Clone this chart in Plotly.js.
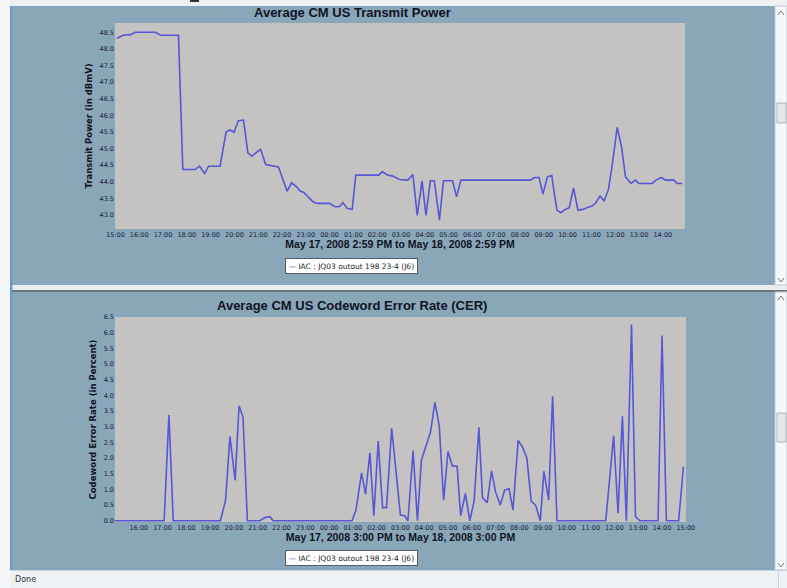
<!DOCTYPE html>
<html>
<head>
<meta charset="utf-8">
<script src="https://cdn.plot.ly/plotly-3.0.1.min.js"></script>
<style>
  html, body { margin: 0; padding: 0; background: #ffffff; }
  #chart { width: 787px; height: 588px; }
</style>
</head>
<body>
<div id="chart"></div>
<script>
// Average CM US transmit power (dBmV), May 17 15:00 -> May 18 15:00
const powerTimes = [
  '2008-05-17 15:04', '2008-05-17 15:21', '2008-05-17 15:39', '2008-05-17 15:50',
  '2008-05-17 16:40', '2008-05-17 16:55', '2008-05-17 17:39', '2008-05-17 17:50',
  '2008-05-17 18:21', '2008-05-17 18:32', '2008-05-17 18:45', '2008-05-17 18:55',
  '2008-05-17 19:24', '2008-05-17 19:39', '2008-05-17 19:49', '2008-05-17 19:59',
  '2008-05-17 20:10', '2008-05-17 20:23', '2008-05-17 20:34', '2008-05-17 20:44',
  '2008-05-17 20:54', '2008-05-17 21:06', '2008-05-17 21:19', '2008-05-17 21:30',
  '2008-05-17 21:38', '2008-05-17 21:51', '2008-05-17 22:13', '2008-05-17 22:24',
  '2008-05-17 22:37', '2008-05-17 22:45', '2008-05-17 22:55', '2008-05-17 23:18',
  '2008-05-17 23:28', '2008-05-18 00:00', '2008-05-18 00:13', '2008-05-18 00:24',
  '2008-05-18 00:34', '2008-05-18 00:44', '2008-05-18 00:57', '2008-05-18 01:06',
  '2008-05-18 02:04', '2008-05-18 02:13', '2008-05-18 02:27', '2008-05-18 02:38',
  '2008-05-18 02:56', '2008-05-18 03:17', '2008-05-18 03:30', '2008-05-18 03:41',
  '2008-05-18 03:53', '2008-05-18 04:03', '2008-05-18 04:14', '2008-05-18 04:24',
  '2008-05-18 04:37', '2008-05-18 04:47', '2008-05-18 05:10', '2008-05-18 05:20',
  '2008-05-18 05:31', '2008-05-18 08:27', '2008-05-18 08:36', '2008-05-18 08:48',
  '2008-05-18 08:58', '2008-05-18 09:09', '2008-05-18 09:20', '2008-05-18 09:33',
  '2008-05-18 09:43', '2008-05-18 09:54', '2008-05-18 10:04', '2008-05-18 10:15',
  '2008-05-18 10:26', '2008-05-18 10:39', '2008-05-18 10:50', '2008-05-18 11:02',
  '2008-05-18 11:11', '2008-05-18 11:22', '2008-05-18 11:32', '2008-05-18 11:43',
  '2008-05-18 11:53', '2008-05-18 12:05', '2008-05-18 12:16', '2008-05-18 12:26',
  '2008-05-18 12:40', '2008-05-18 12:51', '2008-05-18 13:00', '2008-05-18 13:33',
  '2008-05-18 13:43', '2008-05-18 13:56', '2008-05-18 14:07', '2008-05-18 14:28',
  '2008-05-18 14:36', '2008-05-18 14:49'
];
const powerValues = [
  48.32, 48.42, 48.43, 48.50,
  48.50, 48.41, 48.41, 44.37,
  44.37, 44.47, 44.25, 44.47,
  44.47, 45.50, 45.56, 45.49,
  45.84, 45.86, 44.87, 44.77,
  44.87, 44.98, 44.52, 44.50,
  44.47, 44.45, 43.72, 43.97,
  43.85, 43.73, 43.68, 43.40,
  43.35, 43.35, 43.25, 43.25,
  43.37, 43.20, 43.17, 44.20,
  44.20, 44.30, 44.20, 44.18,
  44.07, 44.05, 44.22, 42.99,
  44.03, 42.99, 44.03, 44.03,
  42.85, 44.03, 44.03, 43.55,
  44.05, 44.05, 44.13, 44.13,
  43.63, 44.15, 44.19, 43.15,
  43.07, 43.17, 43.22, 43.82,
  43.15, 43.17, 43.23, 43.27,
  43.37, 43.57, 43.43, 43.77,
  44.55, 45.64, 45.06, 44.15,
  43.95, 44.05, 43.95, 43.95,
  44.05, 44.13, 44.05, 44.05,
  43.95, 43.95
];

// Average CM US codeword error rate (percent)
const cerTimes = [
  '2008-05-17 15:00', '2008-05-17 17:04', '2008-05-17 17:16', '2008-05-17 17:27',
  '2008-05-17 19:26', '2008-05-17 19:39', '2008-05-17 19:50', '2008-05-17 20:03',
  '2008-05-17 20:13', '2008-05-17 20:23', '2008-05-17 20:34', '2008-05-17 21:06',
  '2008-05-17 21:18', '2008-05-17 21:31', '2008-05-17 21:39', '2008-05-18 00:58',
  '2008-05-18 01:08', '2008-05-18 01:22', '2008-05-18 01:32', '2008-05-18 01:43',
  '2008-05-18 01:53', '2008-05-18 02:04', '2008-05-18 02:15', '2008-05-18 02:25',
  '2008-05-18 02:38', '2008-05-18 03:00', '2008-05-18 03:11', '2008-05-18 03:19',
  '2008-05-18 03:32', '2008-05-18 03:43', '2008-05-18 03:53', '2008-05-18 04:06',
  '2008-05-18 04:16', '2008-05-18 04:27', '2008-05-18 04:38', '2008-05-18 04:49',
  '2008-05-18 05:00', '2008-05-18 05:11', '2008-05-18 05:23', '2008-05-18 05:32',
  '2008-05-18 05:44', '2008-05-18 05:55', '2008-05-18 06:06', '2008-05-18 06:18',
  '2008-05-18 06:27', '2008-05-18 06:39', '2008-05-18 06:50', '2008-05-18 07:00',
  '2008-05-18 07:12', '2008-05-18 07:23', '2008-05-18 07:34', '2008-05-18 07:44',
  '2008-05-18 07:57', '2008-05-18 08:08', '2008-05-18 08:19', '2008-05-18 08:30',
  '2008-05-18 08:41', '2008-05-18 08:53', '2008-05-18 09:02', '2008-05-18 09:14',
  '2008-05-18 09:24', '2008-05-18 09:35', '2008-05-18 11:38', '2008-05-18 11:58',
  '2008-05-18 12:09', '2008-05-18 12:20', '2008-05-18 12:30', '2008-05-18 12:43',
  '2008-05-18 12:53', '2008-05-18 13:04', '2008-05-18 13:50', '2008-05-18 14:00',
  '2008-05-18 14:11', '2008-05-18 14:42', '2008-05-18 14:54'
];
const cerValues = [
  0.00, 0.00, 3.37, 0.00,
  0.00, 0.66, 2.69, 1.29,
  3.67, 3.30, 0.00, 0.00,
  0.10, 0.13, 0.00, 0.00,
  0.34, 1.53, 0.85, 2.17,
  0.16, 2.54, 0.42, 0.42,
  2.95, 0.18, 0.16, 0.00,
  2.24, 0.00, 1.93, 2.40,
  2.83, 3.78, 3.03, 0.66,
  2.21, 1.75, 1.74, 0.16,
  0.87, 0.00, 0.63, 2.98,
  0.73, 0.58, 1.59, 0.92,
  0.50, 0.98, 1.03, 0.34,
  2.56, 2.35, 2.00, 0.63,
  0.50, 0.00, 1.58, 0.66,
  3.97, 0.00, 0.00, 2.72,
  0.24, 3.33, 0.00, 6.26,
  0.13, 0.00, 0.00, 5.91,
  0.00, 0.00, 1.72
];

const seriesName = 'IAC : JQ03 outout 198 23-4 (J6)';
const powerTickTimes = [
  '2008-05-17 15:00', '2008-05-17 16:00', '2008-05-17 17:00', '2008-05-17 18:00',
  '2008-05-17 19:00', '2008-05-17 20:00', '2008-05-17 21:00', '2008-05-17 22:00',
  '2008-05-17 23:00', '2008-05-18 00:00', '2008-05-18 01:00', '2008-05-18 02:00',
  '2008-05-18 03:00', '2008-05-18 04:00', '2008-05-18 05:00', '2008-05-18 06:00',
  '2008-05-18 07:00', '2008-05-18 08:00', '2008-05-18 09:00', '2008-05-18 10:00',
  '2008-05-18 11:00', '2008-05-18 12:00', '2008-05-18 13:00', '2008-05-18 14:00'
];
const cerTickTimes = [
  '2008-05-17 16:00', '2008-05-17 17:00', '2008-05-17 18:00', '2008-05-17 19:00',
  '2008-05-17 20:00', '2008-05-17 21:00', '2008-05-17 22:00', '2008-05-17 23:00',
  '2008-05-18 00:00', '2008-05-18 01:00', '2008-05-18 02:00', '2008-05-18 03:00',
  '2008-05-18 04:00', '2008-05-18 05:00', '2008-05-18 06:00', '2008-05-18 07:00',
  '2008-05-18 08:00', '2008-05-18 09:00', '2008-05-18 10:00', '2008-05-18 11:00',
  '2008-05-18 12:00', '2008-05-18 13:00', '2008-05-18 14:00', '2008-05-18 15:00'
];

// page geometry helpers (pixels -> paper fractions)
const W = 787, H = 588;
const px = x => x / W;
const py = y => 1 - y / H;

const PANEL = '#8aa6b9';
const PLOTBG = '#c4c3c2';
const LINE = '#5656d6';
const INK = '#17203a';

const tickFont = { family: 'DejaVu Sans', size: 6.5, color: INK };
const axisTitleFont = { family: 'DejaVu Sans', size: 8.5, color: '#0e1424', weight: 'bold' };
const xTitleFont = { family: 'Liberation Sans', size: 10.5, color: '#0e1424', weight: 'bold' };
const chartTitleFont = { family: 'Liberation Sans', size: 13, color: '#0e1424', weight: 'bold' };

const traces = [
  {
    x: powerTimes, y: powerValues, xaxis: 'x', yaxis: 'y',
    type: 'scatter', mode: 'lines', name: seriesName,
    line: { color: LINE, width: 1.6 }, showlegend: false
  },
  {
    x: cerTimes, y: cerValues, xaxis: 'x2', yaxis: 'y2',
    type: 'scatter', mode: 'lines', name: seriesName,
    line: { color: LINE, width: 1.6 }, showlegend: false
  }
];

function rect(x0, y0, x1, y1, fill, lineColor) {
  return {
    type: 'rect', xref: 'paper', yref: 'paper', layer: 'below',
    x0: px(x0), x1: px(x1), y0: py(y1), y1: py(y0),
    fillcolor: fill,
    line: { width: lineColor ? 1 : 0, color: lineColor || fill }
  };
}
function chevron(cx, cy, up) {
  const d = up ? -2 : 2;
  return {
    type: 'path', xref: 'paper', yref: 'paper',
    path: `M ${px(cx - 3)},${py(cy - d)} L ${px(cx)},${py(cy + d)} L ${px(cx + 3)},${py(cy - d)}`,
    line: { color: '#6a7682', width: 1 }
  };
}

const shapes = [
  // window chrome
  rect(0, 0, 787, 6, '#eef0f2'),
  rect(190, 0, 199, 2, '#333333'),
  rect(0, 0, 10, 588, '#f4f6f8'),
  rect(10, 6, 12.5, 570, '#6c99cd'),
  rect(12.5, 285, 787, 290, '#e9edf0'),
  rect(12.5, 290, 787, 292, '#6d7780'),
  rect(10, 570, 787, 588, '#eef2f5'),
  rect(10, 570, 787, 571, '#c9d3db'),
  // scroll bars
  rect(775, 6, 787, 285, '#f5f7f9', '#c0c9d1'),
  rect(775, 292, 787, 570, '#f5f7f9', '#c0c9d1'),
  rect(777, 103, 786, 123, '#e3e7ea', '#a7b1ba'),
  rect(777, 413, 786, 442, '#e3e7ea', '#a7b1ba'),
  rect(778, 571, 779, 588, '#c9d3db'),
  chevron(781, 13, true),
  chevron(781, 280, false),
  chevron(781, 298, true),
  chevron(781, 565, false)
];

const legendText = `<span style="color:#4a4ad0">—</span> ${seriesName}`;
const legendFont = { family: 'DejaVu Sans', size: 7.5, color: '#1a1f2b' };
const annotations = [
  {
    text: 'Average CM US Transmit Power', xref: 'paper', yref: 'paper',
    x: px(352), y: py(13), showarrow: false, xanchor: 'center', yanchor: 'middle',
    font: chartTitleFont
  },
  {
    text: 'Average CM US Codeword Error Rate (CER)', xref: 'paper', yref: 'paper',
    x: px(352), y: py(305), showarrow: false, xanchor: 'center', yanchor: 'middle',
    font: chartTitleFont
  },
  {
    text: legendText, xref: 'paper', yref: 'paper',
    x: px(351), y: py(266), showarrow: false, xanchor: 'center', yanchor: 'middle',
    font: legendFont,
    bgcolor: '#ffffff', bordercolor: '#555b63', borderwidth: 1, borderpad: 2.5
  },
  {
    text: legendText, xref: 'paper', yref: 'paper',
    x: px(351), y: py(558), showarrow: false, xanchor: 'center', yanchor: 'middle',
    font: legendFont,
    bgcolor: '#ffffff', bordercolor: '#555b63', borderwidth: 1, borderpad: 2.5
  },
  {
    text: 'Done', xref: 'paper', yref: 'paper',
    x: px(13), y: py(579), showarrow: false, xanchor: 'left', yanchor: 'middle',
    font: { family: 'DejaVu Sans', size: 8, color: '#333333' }
  }
];

const layout = {
  width: W, height: H,
  margin: { l: 0, r: 0, t: 0, b: 0 },
  paper_bgcolor: PANEL,
  plot_bgcolor: PLOTBG,
  showlegend: false,
  xaxis: {
    domain: [px(115), px(685)], anchor: 'y', type: 'date',
    range: ['2008-05-17 14:59', '2008-05-18 14:56'],
    tickvals: powerTickTimes, tickformat: '%H:%M',
    tickfont: tickFont, ticks: '', showgrid: false, zeroline: false, showline: false,
    title: { text: 'May 17, 2008 2:59 PM to May 18, 2008 2:59 PM', font: xTitleFont, standoff: 3 }
  },
  yaxis: {
    domain: [py(229), py(23)], anchor: 'x',
    range: [42.58, 48.78], dtick: 0.5, tick0: 43, tickformat: '.1f',
    tickfont: tickFont, ticks: '', showgrid: false, zeroline: false, showline: false,
    title: { text: 'Transmit Power (in dBmV)', font: axisTitleFont, standoff: 5 }
  },
  xaxis2: {
    domain: [px(115), px(686)], anchor: 'y2', type: 'date',
    range: ['2008-05-17 15:00', '2008-05-18 15:00:30'],
    tickvals: cerTickTimes, tickformat: '%H:%M',
    tickfont: tickFont, ticks: '', showgrid: false, zeroline: false, showline: false,
    title: { text: 'May 17, 2008 3:00 PM to May 18, 2008 3:00 PM', font: xTitleFont, standoff: 3 }
  },
  yaxis2: {
    domain: [py(522), py(317)], anchor: 'x2',
    range: [-0.04, 6.5], dtick: 0.5, tick0: 0, tickformat: '.1f',
    tickfont: tickFont, ticks: '', showgrid: false, zeroline: false, showline: false,
    title: { text: 'Codeword Error Rate (in Percent)', font: axisTitleFont, standoff: 5 }
  },
  shapes: shapes,
  annotations: annotations
};

Plotly.newPlot('chart', traces, layout, { staticPlot: true, displayModeBar: false });
</script>
</body>
</html>
